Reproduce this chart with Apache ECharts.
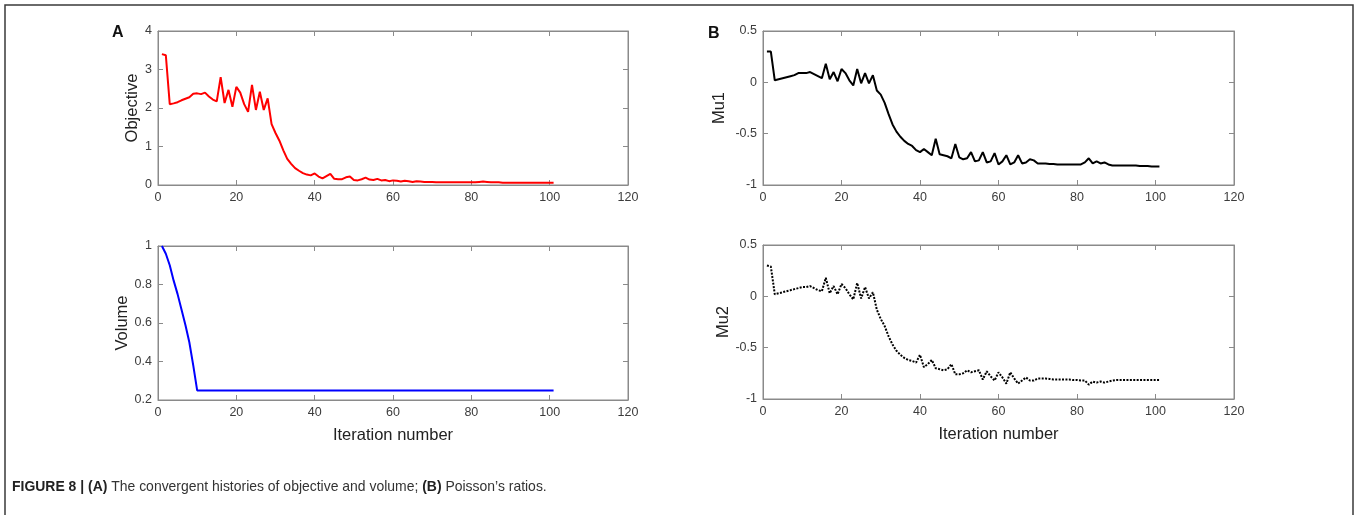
<!DOCTYPE html>
<html><head><meta charset="utf-8">
<script src="https://cdn.jsdelivr.net/npm/echarts@6/dist/echarts.min.js"></script>
<style>html,body{margin:0;padding:0;background:#fff}#c{width:1357px;height:515px}</style>
</head><body><div id="c"></div>
<script>
const iterations = Array.from({length: 101}, (_, i) => i + 1);
const objective = [3.40,3.37,2.10,2.12,2.15,2.20,2.24,2.28,2.37,2.38,
 2.36,2.40,2.30,2.22,2.17,2.80,2.13,2.47,2.03,2.55,
 2.40,2.10,1.90,2.60,1.95,2.42,1.95,2.25,1.58,1.35,
 1.15,0.90,0.68,0.55,0.44,0.37,0.31,0.27,0.25,0.30,
 0.22,0.17,0.23,0.29,0.16,0.15,0.15,0.20,0.22,0.13,
 0.12,0.15,0.19,0.14,0.13,0.16,0.12,0.13,0.10,0.12,
 0.11,0.09,0.11,0.10,0.08,0.10,0.09,0.08,0.08,0.08,
 0.07,0.07,0.07,0.07,0.07,0.07,0.07,0.07,0.07,0.07,
 0.07,0.08,0.09,0.08,0.07,0.07,0.07,0.06,0.06,0.06,
 0.06,0.06,0.06,0.06,0.06,0.06,0.06,0.06,0.06,0.06,
 0.06];
const volume = [1.00,0.96,0.90,0.82,0.75,0.67,0.59,0.50,0.38,0.25,
 0.25,0.25,0.25,0.25,0.25,0.25,0.25,0.25,0.25,0.25,
 0.25,0.25,0.25,0.25,0.25,0.25,0.25,0.25,0.25,0.25,
 0.25,0.25,0.25,0.25,0.25,0.25,0.25,0.25,0.25,0.25,
 0.25,0.25,0.25,0.25,0.25,0.25,0.25,0.25,0.25,0.25,
 0.25,0.25,0.25,0.25,0.25,0.25,0.25,0.25,0.25,0.25,
 0.25,0.25,0.25,0.25,0.25,0.25,0.25,0.25,0.25,0.25,
 0.25,0.25,0.25,0.25,0.25,0.25,0.25,0.25,0.25,0.25,
 0.25,0.25,0.25,0.25,0.25,0.25,0.25,0.25,0.25,0.25,
 0.25,0.25,0.25,0.25,0.25,0.25,0.25,0.25,0.25,0.25,
 0.25];
const mu1 = [0.30,0.30,0.02,0.03,0.04,0.05,0.06,0.07,0.09,0.09,
 0.09,0.10,0.08,0.06,0.04,0.18,0.03,0.10,0.01,0.13,
 0.09,0.02,-0.03,0.13,-0.01,0.09,-0.01,0.07,-0.08,-0.12,
 -0.20,-0.31,-0.41,-0.48,-0.53,-0.57,-0.60,-0.62,-0.66,-0.68,
 -0.65,-0.68,-0.71,-0.55,-0.70,-0.71,-0.72,-0.74,-0.60,-0.73,
 -0.75,-0.74,-0.68,-0.77,-0.76,-0.68,-0.78,-0.77,-0.69,-0.80,
 -0.77,-0.71,-0.80,-0.78,-0.71,-0.79,-0.78,-0.75,-0.76,-0.79,
 -0.79,-0.79,-0.795,-0.795,-0.80,-0.80,-0.80,-0.80,-0.80,-0.80,
 -0.80,-0.78,-0.74,-0.79,-0.77,-0.79,-0.78,-0.80,-0.81,-0.81,
 -0.81,-0.81,-0.81,-0.81,-0.81,-0.815,-0.815,-0.815,-0.82,-0.82,
 -0.82];
const mu2 = [0.30,0.29,0.02,0.03,0.04,0.05,0.06,0.07,0.08,0.09,
 0.09,0.10,0.08,0.06,0.05,0.18,0.03,0.10,0.02,0.12,
 0.08,0.02,-0.03,0.13,-0.02,0.09,-0.02,0.04,-0.13,-0.22,
 -0.29,-0.39,-0.47,-0.53,-0.57,-0.60,-0.62,-0.63,-0.645,-0.57,
 -0.69,-0.66,-0.62,-0.70,-0.71,-0.72,-0.71,-0.66,-0.76,-0.76,
 -0.75,-0.72,-0.74,-0.73,-0.72,-0.81,-0.73,-0.78,-0.82,-0.74,
 -0.79,-0.85,-0.74,-0.80,-0.85,-0.82,-0.79,-0.82,-0.82,-0.80,
 -0.80,-0.80,-0.805,-0.81,-0.81,-0.81,-0.81,-0.81,-0.815,-0.815,
 -0.82,-0.82,-0.86,-0.83,-0.84,-0.83,-0.84,-0.83,-0.82,-0.815,
 -0.815,-0.815,-0.815,-0.815,-0.815,-0.815,-0.815,-0.815,-0.815,-0.815,
 -0.815];

const xRange = {min: 0, max: 120, interval: 20};
const yRanges = [
  {min: 0, max: 4, interval: 1, name: 'Objective'},
  {min: 0.2, max: 1, interval: 0.2, name: 'Volume'},
  {min: -1, max: 0.5, interval: 0.5, name: 'Mu1'},
  {min: -1, max: 0.5, interval: 0.5, name: 'Mu2'}
];
const panelLetters = ['A', 'B'];
const xName = 'Iteration number';

const AX = '#8a8a8a', LAB = '#3c3c3c', FF = 'Liberation Sans, Arial, sans-serif';
const grids = [
  {left: 158, top: 31, width: 470, height: 154},
  {left: 158, top: 246, width: 470, height: 154},
  {left: 763, top: 31, width: 471, height: 154},
  {left: 763, top: 245, width: 471, height: 154}
];
const nameGaps = [17, 27, 35, 29];

const lineCfg = {show: true, onZero: false, lineStyle: {color: AX, width: 1}};
const tickCfg = {inside: true, length: 5, lineStyle: {color: AX}};
const xAxis = [], yAxis = [];
grids.forEach((g, i) => {
  const bottomRow = (i === 1 || i === 3);
  xAxis.push({type: 'value', gridIndex: i, position: 'bottom', min: xRange.min, max: xRange.max, interval: xRange.interval,
    axisLine: lineCfg, axisTick: tickCfg,
    axisLabel: {color: LAB, fontSize: 12.5, fontFamily: FF, margin: 6}, splitLine: {show: false},
    name: bottomRow ? xName : '', nameLocation: 'middle', nameGap: 27,
    nameTextStyle: {color: '#222', fontSize: 16.5, fontFamily: FF}});
  xAxis.push({type: 'value', gridIndex: i, position: 'top', min: xRange.min, max: xRange.max, interval: xRange.interval,
    axisLine: lineCfg, axisTick: tickCfg,
    axisLabel: {show: false}, splitLine: {show: false}});
  const yr = yRanges[i];
  yAxis.push({type: 'value', gridIndex: i, position: 'left', min: yr.min, max: yr.max, interval: yr.interval,
    axisLine: lineCfg, axisTick: tickCfg,
    axisLabel: {color: LAB, fontSize: 12.5, fontFamily: FF, margin: 6}, splitLine: {show: false},
    name: yr.name, nameLocation: 'middle', nameGap: nameGaps[i],
    nameTextStyle: {color: '#222', fontSize: 16.5, fontFamily: FF}});
  yAxis.push({type: 'value', gridIndex: i, position: 'right', min: yr.min, max: yr.max, interval: yr.interval,
    axisLine: lineCfg, axisTick: tickCfg,
    axisLabel: {show: false}, splitLine: {show: false}});
});

function pairs(vals) { return iterations.map((x, k) => [x, vals[k]]); }
function line(vals, i, color, type) {
  return {type: 'line', xAxisIndex: 2 * i, yAxisIndex: 2 * i, data: pairs(vals), showSymbol: false,
    symbol: 'none', silent: true, lineStyle: {color: color, width: 2, type: type || 'solid'}};
}

const chart = echarts.init(document.getElementById('c'), null, {renderer: 'canvas'});
chart.setOption({
  animation: false,
  backgroundColor: '#fff',
  grid: grids.map(g => Object.assign({show: true, borderColor: AX, borderWidth: 1}, g)),
  xAxis, yAxis,
  series: [
    line(objective, 0, '#ff0000'),
    line(volume, 1, '#0000ff'),
    line(mu1, 2, '#000000'),
    line(mu2, 3, '#000000', [2, 1.4])
  ],
  graphic: [
    {type: 'rect', shape: {x: 5, y: 5, width: 1348, height: 530}, style: {fill: 'none', stroke: '#3a3a3a', lineWidth: 1.5}},
    {type: 'text', left: 112, top: 25, style: {text: panelLetters[0], font: 'bold 16px ' + FF, fill: '#111'}},
    {type: 'text', left: 708, top: 26, style: {text: panelLetters[1], font: 'bold 16px ' + FF, fill: '#111'}},
    {type: 'text', x: 12, y: 479, scaleX: 0.93, style: {
      text: '{b|FIGURE 8 | (A)} The convergent histories of objective and volume; {b|(B)} Poisson\u2019s ratios.',
      fontFamily: FF, fontSize: 15, fill: '#333',
      rich: {b: {fontWeight: 'bold', fontFamily: FF, fontSize: 15, fill: '#222'}}}}
  ]
});
</script></body></html>
